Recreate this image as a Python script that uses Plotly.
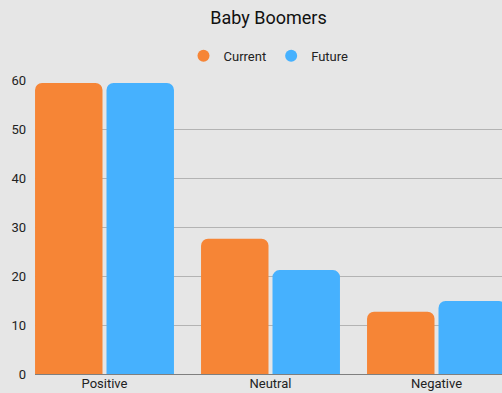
import plotly.graph_objects as go

# Sentiment survey results for the Baby Boomer generation
categories = ["Positive", "Neutral", "Negative"]
current_values = [59.4, 27.6, 12.7]
future_values = [59.4, 21.2, 14.9]
series_names = ["Current", "Future"]
y_ticks = [0, 10, 20, 30, 40, 50, 60]

ORANGE = "#F68536"
BLUE = "#46B1FE"
BG = "#E6E6E6"
FONT = "Roboto, Arial, sans-serif"

fig = go.Figure()

for name, values, color in zip(series_names, [current_values, future_values], [ORANGE, BLUE]):
    fig.add_trace(go.Bar(
        x=categories,
        y=values,
        name=name,
        marker=dict(color=color, cornerradius=7, line=dict(width=0)),
        showlegend=False,
        hoverinfo="x+y+name",
    ))

# Circular legend swatches
for name, color in zip(series_names, [ORANGE, BLUE]):
    fig.add_trace(go.Scatter(
        x=[None], y=[None], mode="markers", name=name,
        marker=dict(color=color, size=14, symbol="circle"),
        showlegend=True,
    ))

fig.update_layout(
    width=502,
    height=393,
    margin=dict(l=35, r=0, t=80, b=19, autoexpand=False),
    paper_bgcolor=BG,
    plot_bgcolor=BG,
    font=dict(family=FONT, size=13, color="#222222"),
    title=dict(
        text="Baby Boomers",
        x=0.5, xref="paper", xanchor="center",
        y=1 - 18 / 393, yref="container", yanchor="middle",
        font=dict(family=FONT, size=18, color="#111111"),
    ),
    legend=dict(
        orientation="h",
        x=0.5, xanchor="center",
        y=1.082, yanchor="middle",
        bgcolor="rgba(0,0,0,0)",
        font=dict(family=FONT, size=13, color="#222222"),
        itemsizing="constant",
        itemwidth=30,
        traceorder="normal",
    ),
    barmode="group",
    bargap=0.139,
    bargroupgap=0.056,
    showlegend=True,
)

fig.update_xaxes(
    type="category",
    range=[-0.4187, 2.3946],
    showgrid=False,
    showline=False,
    ticks="",
    ticklabelstandoff=0,
    automargin=False,
    tickfont=dict(family=FONT, size=13, color="#222222"),
    fixedrange=True,
)

fig.update_yaxes(
    range=[0, 60],
    tickvals=y_ticks,
    showgrid=True,
    gridcolor="#B3B3B3",
    gridwidth=1,
    zeroline=True,
    zerolinecolor="#7F7F7F",
    zerolinewidth=1,
    showline=False,
    ticks="",
    ticklabelstandoff=8,
    automargin=False,
    tickfont=dict(family=FONT, size=13, color="#222222"),
    fixedrange=True,
)

fig.write_html("out.html")
